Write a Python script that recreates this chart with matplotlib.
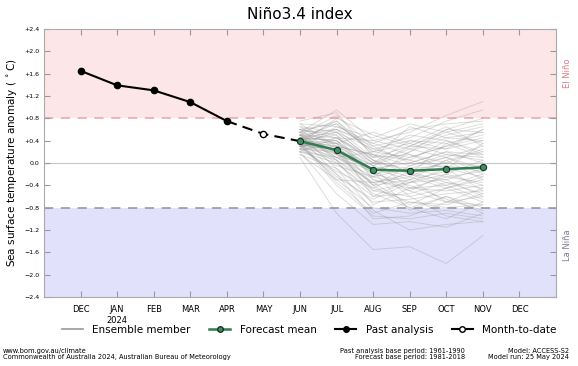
import numpy as np
import matplotlib
matplotlib.use('Agg')
import matplotlib.pyplot as plt
from matplotlib.lines import Line2D

# Month axis: DEC 2023 .. DEC 2024
months = ['DEC', 'JAN\n2024', 'FEB', 'MAR', 'APR', 'MAY', 'JUN',
          'JUL', 'AUG', 'SEP', 'OCT', 'NOV', 'DEC']

past_months = ['DEC', 'JAN', 'FEB', 'MAR', 'APR']
past_values = [1.65, 1.39, 1.30, 1.09, 0.75]

mtd_value = 0.52          # MAY month-to-date

fc_months = ['JUN', 'JUL', 'AUG', 'SEP', 'OCT', 'NOV']
fc_mean = [0.39, 0.23, -0.12, -0.14, -0.11, -0.08]

# ensemble members, JUN..NOV
ensemble = [
    [0.55, 0.95, 0.40, 0.55, 0.85, 1.10],
    [0.50, 0.85, 0.30, 0.45, 0.75, 0.95],
    [0.45, 0.70, 0.20, 0.10, 0.30, 0.60],
    [0.40, 0.60, 0.10, 0.30, 0.55, 0.70],
    [0.35, 0.55, 0.25, 0.40, 0.35, 0.50],
    [0.60, 0.50, 0.00, -0.10, 0.10, 0.30],
    [0.45, 0.40, -0.05, 0.20, 0.45, 0.40],
    [0.30, 0.45, 0.05, -0.20, -0.30, -0.10],
    [0.50, 0.35, -0.20, -0.35, -0.20, 0.05],
    [0.40, 0.30, 0.15, 0.05, -0.10, -0.25],
    [0.35, 0.25, -0.10, 0.00, 0.20, 0.15],
    [0.25, 0.20, -0.30, -0.45, -0.50, -0.40],
    [0.45, 0.15, -0.40, -0.30, -0.15, -0.05],
    [0.30, 0.10, -0.15, -0.50, -0.70, -0.60],
    [0.40, 0.05, -0.35, -0.25, 0.05, 0.20],
    [0.20, 0.00, -0.50, -0.60, -0.45, -0.30],
    [0.35, -0.05, -0.25, -0.10, -0.05, -0.15],
    [0.50, -0.10, -0.60, -0.55, -0.35, -0.45],
    [0.25, -0.15, -0.45, -0.70, -0.80, -0.75],
    [0.30, -0.20, -0.70, -0.65, -0.55, -0.50],
    [0.15, -0.30, -0.80, -0.90, -0.85, -0.95],
    [0.35, -0.40, -0.95, -1.00, -0.90, -1.00],
    [0.20, -0.55, -1.10, -1.05, -1.15, -0.90],
    [0.10, -0.90, -1.55, -1.50, -1.80, -1.30],
    [0.25, 0.65, 0.45, 0.70, 0.55, 0.35],
    [0.55, 0.75, 0.15, -0.05, 0.10, -0.20],
    [0.65, 0.55, 0.05, -0.15, -0.35, -0.55],
    [0.40, 0.35, 0.00, 0.25, 0.10, -0.10],
    [0.30, 0.25, -0.20, -0.10, -0.25, -0.35],
    [0.45, 0.20, -0.15, 0.10, 0.30, 0.45],
    [0.35, 0.30, -0.05, -0.25, -0.45, -0.70],
    [0.50, 0.45, 0.10, 0.15, 0.00, 0.25],
    [0.20, 0.10, -0.35, -0.20, -0.40, -0.20],
    [0.40, 0.00, -0.55, -0.80, -0.60, -0.80],
    [0.55, 0.60, 0.30, 0.00, 0.20, 0.00],
    [0.30, -0.25, -0.65, -0.35, -0.30, -0.60],
    [0.45, 0.40, -0.25, -0.40, -0.65, -0.85],
    [0.35, 0.15, -0.10, -0.60, -0.95, -1.05],
    [0.60, 0.70, 0.20, 0.35, 0.15, 0.05],
    [0.25, 0.05, -0.45, -0.15, 0.00, -0.05],
    [0.40, 0.50, -0.30, -0.50, -0.20, -0.40],
    [0.50, 0.20, -0.40, -0.80, -1.00, -0.70],
    [0.15, -0.10, -0.85, -1.20, -1.10, -1.05],
    [0.35, 0.80, 0.50, 0.30, 0.60, 0.80],
    [0.45, 0.10, 0.20, 0.50, 0.40, 0.15],
    [0.70, 0.65, 0.35, 0.60, 0.70, 0.75],
    [0.60, 0.45, 0.40, 0.25, 0.50, 0.65],
    [0.75, 0.90, 0.10, 0.65, 0.45, 0.55],
    [0.55, 0.35, 0.55, 0.35, 0.65, 0.30],
    [0.65, 0.25, -0.05, 0.30, 0.25, 0.40],
    [0.40, 0.75, 0.25, 0.05, 0.40, 0.20],
    [0.50, 0.10, -0.25, 0.20, 0.60, 0.55],
    [0.30, 0.35, -0.40, -0.05, 0.15, 0.10],
    [0.60, 0.15, -0.10, -0.30, 0.05, -0.30],
    [0.45, 0.55, 0.05, -0.45, -0.25, -0.15],
    [0.35, -0.30, -0.35, -0.75, -0.45, -0.25],
    [0.25, 0.30, -0.60, -0.30, -0.70, -0.45],
    [0.55, 0.05, -0.75, -0.45, -0.40, -0.65],
    [0.40, -0.35, -0.90, -0.70, -0.75, -0.55],
    [0.30, 0.40, -0.15, -0.85, -0.60, -0.90],
    [0.50, 0.60, 0.35, 0.15, -0.10, 0.35],
    [0.20, 0.45, 0.00, 0.40, 0.25, 0.60],
    [0.70, 0.30, 0.15, -0.20, 0.35, 0.10],
    [0.35, 0.20, -0.50, -0.35, -0.10, -0.50],
    [0.45, -0.20, -1.00, -0.95, -0.70, -0.75],
]

yticks = [2.4, 2.0, 1.6, 1.2, 0.8, 0.4, 0.0, -0.4, -0.8, -1.2, -1.6, -2.0, -2.4]
threshold = 0.8

month_keys = ['DEC', 'JAN', 'FEB', 'MAR', 'APR', 'MAY', 'JUN',
              'JUL', 'AUG', 'SEP', 'OCT', 'NOV', 'DEC2']
idx = {m: i for i, m in enumerate(month_keys)}
x_past = [idx[m] for m in past_months]
x_fc = [idx[m] for m in fc_months]
x_mtd = idx['MAY']

fig = plt.figure(figsize=(5.78, 3.66), dpi=100)
ax = fig.add_axes([0.076, 0.1885, 0.886, 0.7325])

ax.set_xlim(-1, 13)
ax.set_ylim(-2.4, 2.4)

# background regions
ax.axhspan(threshold, 2.4, color='#fde6e8', zorder=0, lw=0)
ax.axhspan(-2.4, -threshold, color='#e1e1fb', zorder=0, lw=0)
ax.axhline(threshold, color='#e8a2ab', ls=(0, (6, 5)), lw=1.1, zorder=1)
ax.axhline(-threshold, color='#8f8fa8', ls=(0, (6, 5)), lw=1.1, zorder=1)
ax.axhline(0, color='#c8c8c8', lw=0.8, zorder=1)

for member in ensemble:
    ax.plot(x_fc, member, color='#909090', lw=0.7, alpha=0.3, zorder=2)

# past analysis and month-to-date
ax.plot(x_past, past_values, color='black', lw=1.5, marker='o', ms=4.5, zorder=4)
ax.plot([x_past[-1], x_mtd, x_fc[0]], [past_values[-1], mtd_value, fc_mean[0]],
        color='black', lw=1.5, ls=(0, (5, 3)), zorder=3)
ax.plot([x_mtd], [mtd_value], marker='o', ms=4.5, mfc='white', mec='black',
        mew=1.0, ls='none', zorder=5)

ax.plot(x_fc, fc_mean, color='#2f7d50', lw=1.8, marker='o', ms=4.5,
        mfc='#3f8f62', mec='#143522', mew=0.8, zorder=6)

ax.set_xticks(range(13))
ax.set_xticklabels(months, fontsize=6)
ax.set_yticks(yticks)
ax.set_yticklabels(['0.0' if v == 0 else f'{v:+.1f}'.replace('-', '\u2212') for v in yticks],
                   fontsize=4.5)
ax.tick_params(axis='both', direction='in', colors='#999999', labelcolor='black',
               length=4, width=0.8, top=True, right=True, pad=3)
ax.tick_params(axis='x', pad=6)
for s in ax.spines.values():
    s.set_color('#aaaaaa')
    s.set_linewidth(0.8)

ax.set_ylabel('Sea surface temperature anomaly ( $^\\circ$C)', fontsize=7.5)
ax.set_title('Ni\u00f1o3.4 index', fontsize=11, pad=7)

fig.text(0.982, 0.80, 'El Ni\u00f1o', rotation=90, color='#e07a88',
         fontsize=6, ha='center', va='center')
fig.text(0.982, 0.33, 'La Ni\u00f1a', rotation=90, color='#7a7a98',
         fontsize=6, ha='center', va='center')

handles = [
    Line2D([], [], color='#999999', lw=1.2),
    Line2D([], [], color='#2f7d50', lw=1.8, marker='o', ms=4, mfc='#3f8f62', mec='#143522'),
    Line2D([], [], color='black', lw=1.5, marker='o', ms=4),
    Line2D([], [], color='black', lw=1.5, marker='o', ms=4, mfc='white', mec='black'),
]
labels = ['Ensemble member', 'Forecast mean', 'Past analysis', 'Month-to-date']
fig.legend(handles, labels, loc='center', bbox_to_anchor=(0.535, 0.098), ncol=4,
           frameon=False, fontsize=7.5, handlelength=2.0, handletextpad=0.9,
           columnspacing=1.8)

fig.text(0.005, 0.033, 'www.bom.gov.au/climate\nCommonwealth of Australia 2024, Australian Bureau of Meteorology',
         fontsize=4.8, ha='left', va='center', linespacing=1.1)
fig.text(0.805, 0.033, 'Past analysis base period: 1961-1990\nForecast base period: 1981-2018',
         fontsize=4.8, ha='right', va='center', multialignment='right', linespacing=1.1)
fig.text(0.985, 0.033, 'Model: ACCESS-S2\nModel run: 25 May 2024',
         fontsize=4.8, ha='right', va='center', multialignment='right', linespacing=1.1)

fig.savefig('out.png', dpi=100)
